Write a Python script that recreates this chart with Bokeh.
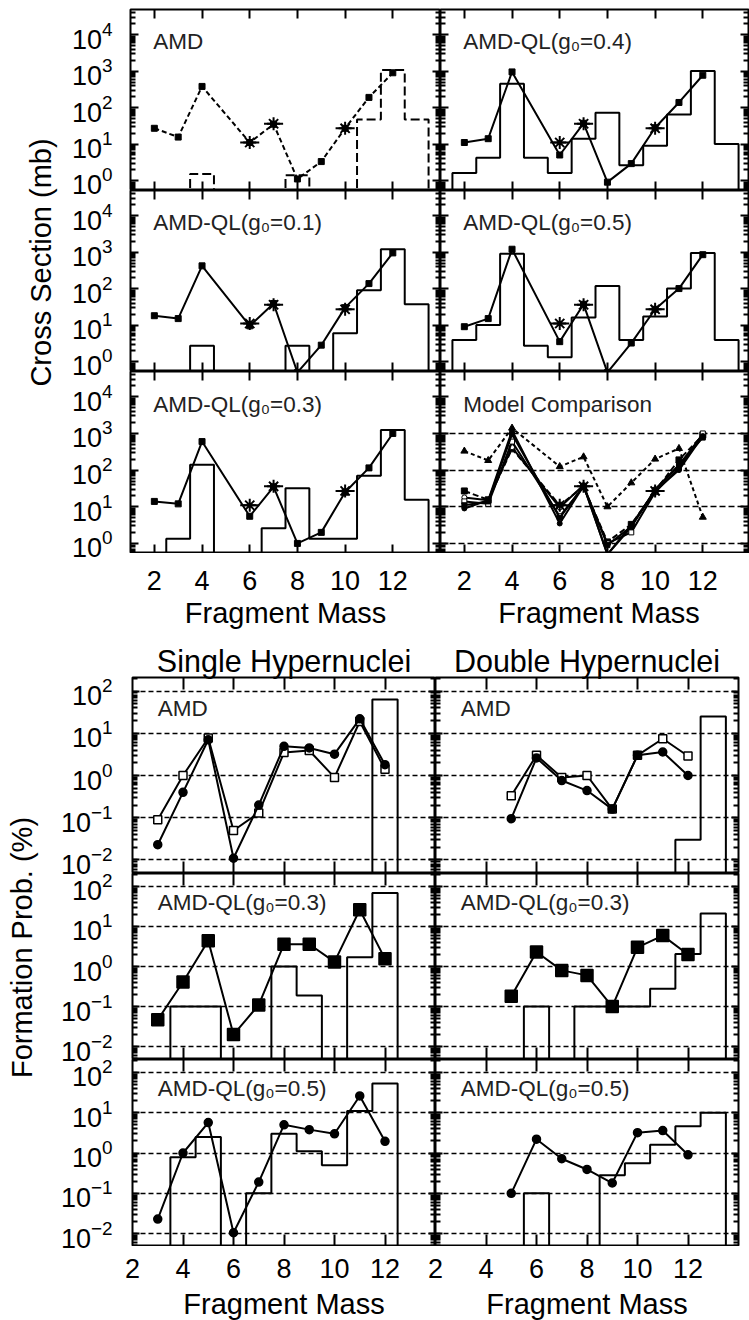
import math

from bokeh.plotting import figure
from bokeh.layouts import row, column
from bokeh.models import (Range1d, LogAxis, LinearAxis, FixedTicker, Label, Grid, LogScale)
from bokeh.embed import file_html
from bokeh.resources import INLINE

FONT = "Liberation Sans"
INK = "black"

# ---------------- fragment production cross sections (mb) ----------------
CS_MASS = [2, 3, 4, 6, 7, 8, 9, 10, 11, 12]
CS_AMD = [27, 15.5, 380, 11, 35, 1.1, 3.3, 27, 190, 900]
CS_G01 = [18, 15, 420, 9.5, 39, 0.5, 2.8, 30, 137, 950]
CS_G03 = [14, 12, 600, 5.5, 35, 1.0, 2.0, 25, 115, 1000]
CS_G04 = [11, 14, 950, 5.0, 37, 0.9, 2.9, 28, 138, 770]
CS_G05 = [9, 15, 1200, 3.5, 37, 0.5, 3.2, 27, 100, 850]
CS_ALT = [330, 183, 1400, 125, 230, 10, 45, 200, 390, 5.2]

EXP_MASS = [6, 7, 10]
EXP_CS = [11, 36, 27]

# histograms: occupied mass bins and their heights (mb)
H_AMD_BINS = [4, 8, 11, 12, 13]
H_AMD = [1.5, 1.4, 47, 1070, 47]
H_G01_BINS = [4, 8, 10, 11, 12, 13]
H_G01 = [2.7, 2.7, 5.9, 90, 1200, 37]
H_G03_BINS = [3, 4, 7, 8, 9, 10, 11, 12, 13]
H_G03 = [1.35, 140, 2.6, 32, 1.35, 1.35, 70, 1250, 15.5]
H_G04_BINS = [2, 3, 4, 5, 6, 7, 8, 9, 10, 11, 12, 13]
H_G04 = [1.6, 4.2, 450, 4.2, 1.6, 14, 72, 2.6, 9, 65, 1000, 10]
H_G05_BINS = [2, 3, 4, 5, 6, 7, 8, 9, 10, 11, 12, 13]
H_G05 = [3.9, 10, 900, 2.7, 1.3, 16, 118, 3.9, 17, 100, 950, 3.9]

# ---------------- hypernucleus formation probabilities (%) ----------------
SINGLE_MASS = [3, 4, 5, 6, 7, 8, 9, 10, 11, 12]
SINGLE_AMD_A = [0.023, 0.4, 7.0, 0.011, 0.2, 4.9, 4.5, 3.2, 22, 1.8]
SINGLE_AMD_B = [0.09, 1.0, 7.7, 0.05, 0.13, 3.5, 3.9, 0.9, 19, 1.4]
SINGLE_G03 = [0.047, 0.41, 4.4, 0.02, 0.11, 3.6, 3.6, 1.3, 26, 1.55]
SINGLE_G05 = [0.023, 1.0, 5.7, 0.0105, 0.19, 5.0, 3.8, 3.0, 26, 1.95]

DOUBLE_MASS = [5, 6, 7, 8, 9, 10, 11, 12]
DOUBLE_AMD_A = [0.095, 2.6, 0.76, 0.44, 0.16, 3.0, 3.6, 1.0]
DOUBLE_AMD_B = [0.33, 3.0, 0.9, 1.0, 0.16, 3.0, 7.4, 2.9]
DOUBLE_G03 = [0.18, 2.3, 0.8, 0.6, 0.1, 3.0, 5.9, 2.0]
DOUBLE_G05 = [0.1, 2.2, 0.72, 0.39, 0.18, 3.2, 3.6, 0.9]

HS_AMD_BINS = [12]
HS_AMD = [63]
HS_G03_BINS = [4, 5, 8, 9, 11, 12]
HS_G03 = [0.1, 0.1, 1.0, 0.19, 1.7, 68]
HS_G05_BINS = [4, 5, 7, 8, 9, 10, 11, 12]
HS_G05 = [0.78, 2.5, 0.1, 3.0, 1.1, 0.5, 11, 53]
HD_AMD_BINS = [12, 13]
HD_AMD = [0.03, 25]
HD_G03_BINS = [6, 8, 9, 10, 11, 12, 13]
HD_G03 = [0.1, 0.1, 0.1, 0.1, 0.28, 2.06, 21]
HD_G05_BINS = [6, 9, 10, 11, 12, 13]
HD_G05 = [0.1, 0.28, 0.56, 1.6, 4.6, 10]

MASS_TICKS = [2, 4, 6, 8, 10, 12]

# ---------------- geometry (pixels / log10 limits) ----------------
EXP_HALF = 0.4
TOP_LOG = (-0.275, 4.69)
BOT_LOG = (-2.32, 2.32)
TOP_Y = (10 ** TOP_LOG[0], 10 ** TOP_LOG[1])
BOT_Y = (10 ** BOT_LOG[0], 10 ** BOT_LOG[1])
TOP_UNIT = 310 / 13.0          # pixels per mass unit, upper block
TOP_RIGHT_END = 1 + 308 / TOP_UNIT
TOP_ROWS = [(9, 190), (190, 371), (371, 553)]
BOT_ROWS = [(37, 233), (233, 419), (419, 606)]
STRIP_W = 120
LABEL_PX = "22.5px"


def decades(lo, hi):
    major = [10.0 ** n for n in range(lo, hi + 1)]
    minor = [k * 10.0 ** n for n in range(lo - 1, hi + 1) for k in range(2, 10)]
    return major, minor


def bare_figure(width, height, **kw):
    p = figure(width=width, height=height, toolbar_location=None, output_backend="svg",
               x_axis_location=None, y_axis_location=None,
               background_fill_color="white", border_fill_color="white", **kw)
    p.center = [r for r in p.center if not isinstance(r, Grid)]
    return p


def frame_figure(width, height, xr, yr, left, right, top, bottom):
    return bare_figure(width, height, x_range=Range1d(*xr), y_range=Range1d(*yr),
                       y_axis_type="log",
                       min_border_left=left, min_border_right=right,
                       min_border_top=top, min_border_bottom=bottom,
                       outline_line_color=INK, outline_line_width=2)


def add_axis(p, side, ticks, minor, tick_in, minor_in):
    cls = LogAxis if side in ("left", "right") else LinearAxis
    ax = cls(ticker=FixedTicker(ticks=ticks, minor_ticks=minor),
             major_tick_in=tick_in, major_tick_out=0,
             minor_tick_in=minor_in, minor_tick_out=0,
             major_tick_line_width=2, minor_tick_line_width=2,
             major_tick_line_color=INK, minor_tick_line_color=INK,
             axis_line_color=None, major_label_text_color=None)
    ax.fixed_location = {
        "left": p.x_range.start, "right": p.x_range.end,
        "below": p.y_range.start, "above": p.y_range.end,
    }[side]
    p.add_layout(ax, side)


def step_outline(bins, heights, floor):
    """Outline of a stepped histogram, split into runs of adjacent bins."""
    xs, ys = [], []
    cur_x, cur_y, prev = None, None, None
    for b, h in zip(bins, heights):
        if prev is None or b != prev + 1:
            if cur_x is not None:
                cur_x.append(prev + 0.5)
                cur_y.append(floor)
                xs.append(cur_x)
                ys.append(cur_y)
            cur_x, cur_y = [b - 0.5], [floor]
        cur_x += [b - 0.5, b + 0.5]
        cur_y += [h, h]
        prev = b
    cur_x.append(prev + 0.5)
    cur_y.append(floor)
    xs.append(cur_x)
    ys.append(cur_y)
    return xs, ys


def panel_label(p, x, y, text):
    p.add_layout(Label(x=x, y=y, text=text, text_font=FONT, text_font_size=LABEL_PX,
                       text_color="#222222", text_baseline="middle", text_align="left"))


# ---------------- tick-label strips (shared by a row / column of panels) ----------------
def y_label_strip(width, height, rows, frame_x, log_lo, log_hi, ticks, standoff, title, cx, cy):
    p = bare_figure(width, height, x_range=Range1d(0, width), y_range=Range1d(0, height),
                    min_border=0, outline_line_color=None)
    ranges, scales = {}, {}
    for i, (top, bot) in enumerate(rows):
        k = (log_hi - log_lo) / (bot - top)
        ranges[f"row{i}"] = Range1d(10 ** (log_lo - (height - bot) * k), 10 ** (log_hi + top * k))
        scales[f"row{i}"] = LogScale()
    p.extra_y_ranges = ranges
    p.extra_y_scales = scales
    for name in ranges:
        ax = LogAxis(y_range_name=name, ticker=FixedTicker(ticks=ticks), fixed_location=frame_x,
                     major_tick_in=0, major_tick_out=0, minor_tick_in=0, minor_tick_out=0,
                     axis_line_color=None, major_label_standoff=standoff,
                     major_label_text_font=FONT, major_label_text_font_size="27px",
                     major_label_text_color=INK)
        p.add_layout(ax, "left")
    p.add_layout(Label(x=cx, y=height - cy, text=title, angle=math.pi / 2,
                       text_align="center", text_baseline="middle",
                       text_font=FONT, text_font_size="29px", text_color=INK))
    return p


def x_label_strip(width, height, cols, standoff, title, title_mid):
    p = bare_figure(width, height, x_range=Range1d(0, width), y_range=Range1d(0, height),
                    min_border=0, outline_line_color=None)
    ranges = {}
    for i, (left, right, x0, x1, _) in enumerate(cols):
        unit = (x1 - x0) / (right - left)
        ranges[f"col{i}"] = Range1d(x0 - left * unit, x1 + (width - right) * unit)
    p.extra_x_ranges = ranges
    for (name, (_, _, _, _, centre)) in zip(ranges, cols):
        ax = LinearAxis(x_range_name=name, ticker=FixedTicker(ticks=MASS_TICKS), fixed_location=height,
                        major_tick_in=0, major_tick_out=0, minor_tick_in=0, minor_tick_out=0,
                        axis_line_color=None, major_label_standoff=standoff,
                        major_label_text_font=FONT, major_label_text_font_size="27px",
                        major_label_text_color=INK)
        p.add_layout(ax, "below")
        p.add_layout(Label(x=centre, y=height - title_mid, x_range_name=name, text=title,
                           text_align="center", text_baseline="middle",
                           text_font=FONT, text_font_size="29px", text_color=INK))
    return p


# ---------------- cross-section panels ----------------
def cs_panel(r, c):
    left_col = c == 0
    p = frame_figure(320 if left_col else 309, [190, 181, 182][r],
                     (1, 14 if left_col else TOP_RIGHT_END), TOP_Y,
                     10 if left_col else 0, 0 if left_col else 1, 9 if r == 0 else 0, 0)
    major, minor = decades(0, 4)
    add_axis(p, "left", major, minor, 8, 5)
    add_axis(p, "right", major, minor, 8, 5)
    add_axis(p, "above", MASS_TICKS, [], 9, 0)
    add_axis(p, "below", MASS_TICKS, [], 9, 0)
    return p


def add_exp(p):
    p.segment(x0=[m - EXP_HALF for m in EXP_MASS], x1=[m + EXP_HALF for m in EXP_MASS],
              y0=EXP_CS, y1=EXP_CS, line_color=INK, line_width=2)
    p.scatter(EXP_MASS, EXP_CS, marker="asterisk", size=13, line_color=INK, line_width=2)


def cs_model(p, label, values, bins, heights, dashed=False):
    xs, ys = step_outline(bins, heights, TOP_Y[0] / 10)
    p.multi_line(xs, ys, line_color=INK, line_width=2, line_dash="9 4" if dashed else "solid")
    p.line(CS_MASS, values, line_color=INK, line_width=2, line_dash="5 3" if dashed else "solid")
    p.scatter(CS_MASS, values, marker="square", size=6, fill_color=INK, line_color=INK)
    add_exp(p)
    panel_label(p, 1.95, 10 ** 3.8, label)


t00 = cs_panel(0, 0)
cs_model(t00, "AMD", CS_AMD, H_AMD_BINS, H_AMD, dashed=True)
t01 = cs_panel(0, 1)
cs_model(t01, "AMD-QL(g\u2080=0.4)", CS_G04, H_G04_BINS, H_G04)
t10 = cs_panel(1, 0)
cs_model(t10, "AMD-QL(g\u2080=0.1)", CS_G01, H_G01_BINS, H_G01)
t11 = cs_panel(1, 1)
cs_model(t11, "AMD-QL(g\u2080=0.5)", CS_G05, H_G05_BINS, H_G05)
t20 = cs_panel(2, 0)
cs_model(t20, "AMD-QL(g\u2080=0.3)", CS_G03, H_G03_BINS, H_G03)

t21 = cs_panel(2, 1)
t21.add_layout(Grid(dimension=1, ticker=FixedTicker(ticks=[1, 10, 100, 1000]),
                    grid_line_color=INK, grid_line_width=1.5, grid_line_dash="6 3"))
t21.line(CS_MASS, CS_ALT, line_color=INK, line_width=2, line_dash="4 3")
t21.scatter(CS_MASS, CS_ALT, marker="triangle", size=7, fill_color=INK, line_color=INK)
t21.line(CS_MASS, CS_AMD, line_color=INK, line_width=2, line_dash="6 3")
t21.scatter(CS_MASS, CS_AMD, marker="square", size=6, fill_color=INK, line_color=INK)
for vals, mk, fill in [(CS_G01, "circle", "white"), (CS_G03, "square", "white"),
                       (CS_G04, "square", INK), (CS_G05, "circle", INK)]:
    t21.line(CS_MASS, vals, line_color=INK, line_width=2)
    t21.scatter(CS_MASS, vals, marker=mk, size=5, fill_color=fill, line_color=INK)
add_exp(t21)
panel_label(t21, 1.95, 10 ** 3.8, "Model Comparison")


# ---------------- formation-probability panels ----------------
def fp_panel(r, c, title=None):
    left_col = c == 0
    p = frame_figure(315 if left_col else 314, [233, 186, 187][r], (2, 14), BOT_Y,
                     12 if left_col else 0, 0 if left_col else 11, 37 if r == 0 else 0, 0)
    major, minor = decades(-2, 2)
    add_axis(p, "left", major, minor, 7, 5)
    add_axis(p, "right", major, minor, 7, 5)
    add_axis(p, "above", MASS_TICKS[1:], [], 12, 0)
    add_axis(p, "below", MASS_TICKS[1:], [], 12, 0)
    p.add_layout(Grid(dimension=1, ticker=FixedTicker(ticks=major),
                      grid_line_color=INK, grid_line_width=1.5, grid_line_dash="5 3"))
    if title:
        p.title.text = title
        p.title.align = "center"
        p.title.text_font = FONT
        p.title.text_font_size = "30.5px"
        p.title.text_font_style = "normal"
        p.title.text_color = INK
        p.title.standoff = 0
    return p


def fp_hist(p, bins, heights):
    xs, ys = step_outline(bins, heights, BOT_Y[0] / 10)
    p.multi_line(xs, ys, line_color=INK, line_width=2)


def fp_line(p, mass, values, marker, size, fill):
    p.line(mass, values, line_color=INK, line_width=2)
    p.scatter(mass, values, marker=marker, size=size, fill_color=fill, line_color=INK, line_width=1.5)


b00 = fp_panel(0, 0, "Single Hypernuclei")
fp_hist(b00, HS_AMD_BINS, HS_AMD)
fp_line(b00, SINGLE_MASS, SINGLE_AMD_B, "square", 8, "white")
fp_line(b00, SINGLE_MASS, SINGLE_AMD_A, "circle", 8, INK)
panel_label(b00, 3.0, 10 ** 1.58, "AMD")

b01 = fp_panel(0, 1, "Double Hypernuclei")
fp_hist(b01, HD_AMD_BINS, HD_AMD)
fp_line(b01, DOUBLE_MASS, DOUBLE_AMD_B, "square", 8, "white")
fp_line(b01, DOUBLE_MASS, DOUBLE_AMD_A, "circle", 8, INK)
panel_label(b01, 3.0, 10 ** 1.58, "AMD")

b10 = fp_panel(1, 0)
fp_hist(b10, HS_G03_BINS, HS_G03)
fp_line(b10, SINGLE_MASS, SINGLE_G03, "square", 12, INK)
panel_label(b10, 3.0, 10 ** 1.6, "AMD-QL(g\u2080=0.3)")

b11 = fp_panel(1, 1)
fp_hist(b11, HD_G03_BINS, HD_G03)
fp_line(b11, DOUBLE_MASS, DOUBLE_G03, "square", 12, INK)
panel_label(b11, 3.0, 10 ** 1.6, "AMD-QL(g\u2080=0.3)")

b20 = fp_panel(2, 0)
fp_hist(b20, HS_G05_BINS, HS_G05)
fp_line(b20, SINGLE_MASS, SINGLE_G05, "circle", 8, INK)
panel_label(b20, 3.0, 10 ** 1.6, "AMD-QL(g\u2080=0.5)")

b21 = fp_panel(2, 1)
fp_hist(b21, HD_G05_BINS, HD_G05)
fp_line(b21, DOUBLE_MASS, DOUBLE_G05, "circle", 8, INK)
panel_label(b21, 3.0, 10 ** 1.6, "AMD-QL(g\u2080=0.5)")


# ---------------- assemble ----------------
top_major, _ = decades(0, 4)
bot_major, _ = decades(-2, 2)

ystrip_top = y_label_strip(STRIP_W, 640, TOP_ROWS, 130, TOP_LOG[0], TOP_LOG[1], top_major, 18,
                           "Cross Section (mb)", 40, 262)
ystrip_bot = y_label_strip(STRIP_W, 680, BOT_ROWS, 132, BOT_LOG[0], BOT_LOG[1], bot_major, 20,
                           "Formation Prob. (%)", 21, 307)
xstrip_top = x_label_strip(749 - STRIP_W, 87, [(10, 320, 1, 14, 7.5),
                                               (320, 628, 1, TOP_RIGHT_END, 7.65)],
                           17, "Fragment Mass", 59)
xstrip_bot = x_label_strip(749 - STRIP_W, 74, [(12, 315, 2, 14, 8.0),
                                               (315, 618, 2, 14, 8.0)],
                           12, "Fragment Mass", 57)

top = row(ystrip_top, column(row(t00, t01), row(t10, t11), row(t20, t21), xstrip_top))
bottom = row(ystrip_bot, column(row(b00, b01), row(b10, b11), row(b20, b21), xstrip_bot))
layout = column(top, bottom)

open("out.html", "w").write(file_html(layout, INLINE))
